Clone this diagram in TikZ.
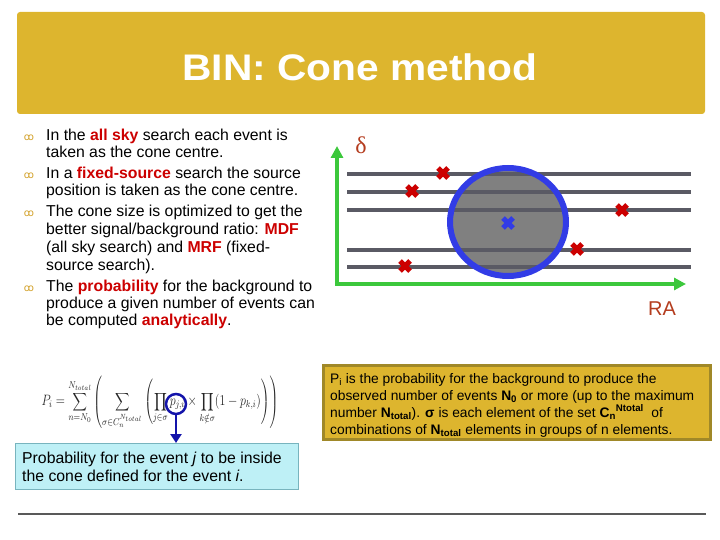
\documentclass[tikz,border=0pt]{standalone}
\usepackage{fontspec}
\setmainfont{Liberation Sans}
\newfontfamily\dejavu{DejaVu Sans}
\newfontfamily\serifgr{Liberation Serif}
\usetikzlibrary{arrows.meta,shapes.geometric}
\definecolor{titlegold}{RGB}{221,181,46}
\definecolor{boxborder}{RGB}{160,136,40}
\definecolor{hired}{RGB}{204,0,0}
\definecolor{axisgreen}{RGB}{60,200,60}
\definecolor{lab}{RGB}{180,60,30}
\definecolor{stripe}{RGB}{90,90,100}
\definecolor{coneblue}{RGB}{50,60,230}
\definecolor{darkblue}{RGB}{20,20,170}
\definecolor{cyanfill}{RGB}{190,240,246}
\definecolor{cyanborder}{RGB}{120,180,190}
\definecolor{bulletgold}{RGB}{210,160,40}
\tikzset{
  txt/.style={anchor=base west, inner sep=0pt, font=\fontsize{15.8}{18}\selectfont},
  ytxt/.style={anchor=base west, inner sep=0pt, font=\fontsize{13.8}{16}\selectfont},
  bul/.style={anchor=base, inner sep=0pt, text=bulletgold, font=\dejavu\fontsize{10}{12}\selectfont},
  stripeline/.style={stripe, line width=3.5pt},
  axis/.style={axisgreen, line width=3.5pt, -{Triangle[length=12pt,width=12pt]}},
  redx/.style={hired, line width=5pt},
  bluex/.style={coneblue, line width=5pt},
}
\newcommand{\hl}[1]{\textcolor{hired}{\textbf{#1}}}
\begin{document}
\begin{tikzpicture}[x=1pt,y=-1pt]
\useasboundingbox (0,0) rectangle (720,540);
% title
\fill[titlegold, rounded corners=3pt] (17,12) rectangle (705,114);
\node[text=white, font=\fontsize{37}{40}\bfseries\selectfont, inner sep=0pt, xscale=1.1] (title) at (360,67) {BIN: Cone method};
% bullets
\foreach \y/\n in {141/b1,179/b2,217/b3,291/b4} {
  \node[bul] (\n) at (29,\y) {ꝏ};
}
\node[txt] (l1) at (46,141) {In the \hl{all sky} search each event is};
\node[txt] (l2) at (46,158) {taken as the cone centre.};
\node[txt] (l3) at (46,179) {In a \hl{fixed-source} search the source};
\node[txt] (l4) at (46,196) {position is taken as the cone centre.};
\node[txt] (l5) at (46,217) {The cone size is optimized to get the};
\node[txt] (l6) at (46,235) {better signal/background ratio: \hl{MDF}};
\node[txt] (l7) at (46,252) {(all sky search) and \hl{MRF} (fixed-};
\node[txt] (l8) at (46,270) {source search).};
\node[txt] (l9) at (46,291) {The \hl{probability} for the background to};
\node[txt] (l10) at (46,308) {produce a given number of events can};
\node[txt] (l11) at (46,325) {be computed \hl{analytically}.};
% sky diagram
\fill[black!50] (508,222) ellipse [x radius=58, y radius=54];
\foreach \y in {174,192,210,250,267} {
  \draw[stripeline] (347,\y) -- (691,\y);
}
\draw[coneblue, line width=6pt] (508,222) ellipse [x radius=58, y radius=54];
\coordinate (origin) at (337,284);
\coordinate (ytip) at (337,146);
\coordinate (xtip) at (686,284);
\draw[axis] (origin) -- (ytip);
\draw[axis] ([xshift=-1.75pt]origin) -- (xtip);
\node[text=lab, font=\serifgr\fontsize{24}{26}\selectfont] (delta) at (361,145) {δ};
\node[text=lab, font=\fontsize{20}{22}\selectfont] (ra) at (662,309) {RA};
\foreach \x/\y in {443/173,412/191,622/210,577/249,405/266} {
  \draw[redx] (\x-5,\y-5) -- (\x+5,\y+5) (\x-5,\y+5) -- (\x+5,\y-5);
}
\draw[bluex] (503,218) -- (513,228) (503,228) -- (513,218);
% formula
\node[inner sep=0pt, text=black!85, font=\fontsize{12}{14}\selectfont, yscale=1.25] (formula) at (160,402)
 {$\displaystyle P_i=\sum_{n=N_0}^{N_{total}}\left(\sum_{\sigma\in C_n^{N_{total}}}\left(\prod_{j\in\sigma}p_{j,i}\times\prod_{k\notin\sigma}(1-p_{k,i})\right)\right)$};
\node[draw=darkblue, line width=2.5pt, circle, minimum size=20pt, inner sep=0pt] (pji) at (176,404) {};
% cyan box
\node[draw=cyanborder, fill=cyanfill, minimum width=283pt, minimum height=46pt, anchor=north west, inner sep=0pt] (cbox) at (15,443) {};
\draw[darkblue, line width=2.5pt, -{Triangle[length=9pt,width=11pt]}] (pji.south) -- (cbox.north -| pji);
\node[txt] (c1) at (22,463) {Probability for the event \textit{j} to be inside};
\node[txt] (c2) at (22,481) {the cone defined for the event \textit{i}.};
% yellow box
\node[draw=boxborder, fill=titlegold, line width=2.5pt, minimum width=387pt, minimum height=74pt, anchor=north west, inner sep=0pt] (ybox) at (322,364) {};
\node[ytxt] (y1) at (330,383) {P\textsubscript{i} is the probability for the background to produce the};
\node[ytxt] (y2) at (330,400) {observed number of events \textbf{N\textsubscript{0}} or more (up to the maximum};
\node[ytxt] (y3) at (330,417) {number \textbf{N\textsubscript{total}}). \textbf{σ} is each element of the set \textbf{C\textsubscript{n}\textsuperscript{Ntotal}}\ \ of};
\node[ytxt] (y4) at (330,434) {combinations of \textbf{N\textsubscript{total}} elements in groups of n elements.};
% bottom rule
\draw[black!65, line width=2pt] (18,514) -- (706,514);
\end{tikzpicture}
\end{document}
